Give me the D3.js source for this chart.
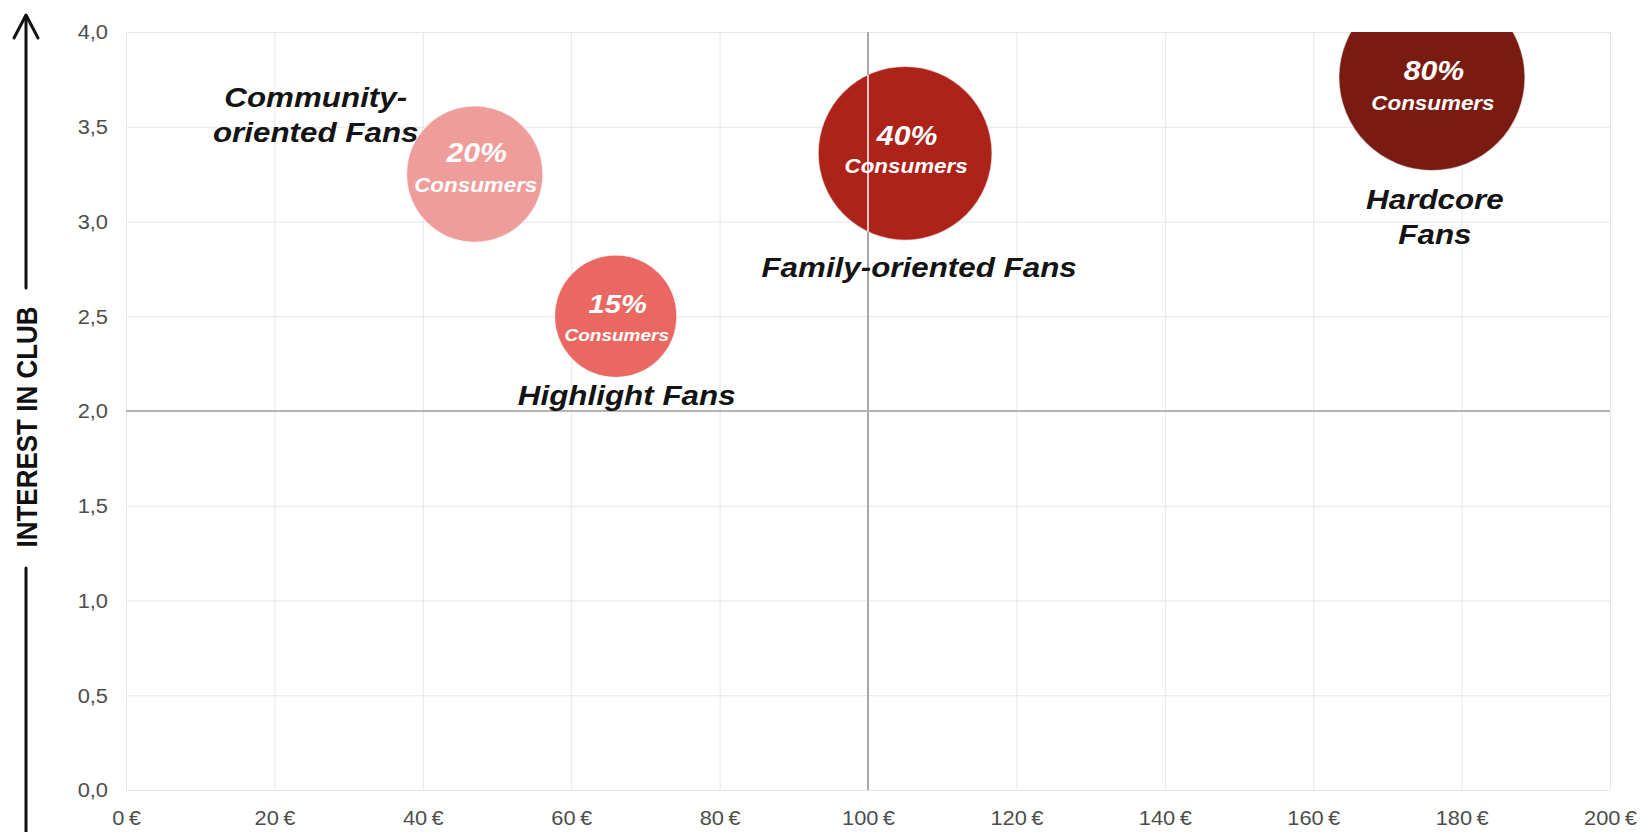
<!DOCTYPE html>
<html>
<head>
<meta charset="utf-8">
<script src="https://cdn.jsdelivr.net/npm/d3@7"></script>
<style>
  body { margin: 0; background: #fff; }
  svg text { font-family: "Liberation Sans", Arial, sans-serif; }
</style>
</head>
<body>
<div id="chart"></div>
<script>
// Fan segments: spend per fan (x), interest in club (y), share of consumers, bubble size
const segmentLines = [["Community-", "oriented Fans"], ["Highlight Fans"], ["Family-oriented Fans"], ["Hardcore", "Fans"]];
const spend = [47, 66, 105, 176];
const interest = [3.25, 2.5, 3.36, 3.76];
const consumerShare = [20, 15, 40, 80];
const bubbleValue = [4.6, 3.7, 7.5, 8.6];
const xTicks = [0, 20, 40, 60, 80, 100, 120, 140, 160, 180, 200];
const yTicks = [0, 0.5, 1, 1.5, 2, 2.5, 3, 3.5, 4];
const yTitle = "INTEREST IN CLUB";

// where labels sit relative to each bubble (pixels), and text sizes
const labelLayout = [
    { name: [-159, -77], pct: -22, cons: 11, pctSize: 27, consSize: 20 },
    { name: [11, 79], pct: -13, cons: 19, pctSize: 26, consSize: 17 },
    { name: [14, 114], pct: -18, cons: 13, pctSize: 27, consSize: 20 },
    { name: [3, 121], pct: -7, cons: 25, pctSize: 27, consSize: 20 }
];
const colors = ["#EF9D9B", "#EA6862", "#AD231A", "#7A1B12"];
const sx = 1.12; // the slide is stretched a bit sideways

const W = 1642, H = 832;
const margin = { top: 32, right: 32, bottom: 42, left: 126 };
const width = W - margin.left - margin.right;
const height = H - margin.top - margin.bottom;

const svg = d3.select("#chart").append("svg")
    .attr("width", W)
    .attr("height", H);

const g = svg.append("g")
    .attr("transform", `translate(${margin.left},${margin.top})`);

const x = d3.scaleLinear().domain([0, 200]).range([0, width]);
const y = d3.scaleLinear().domain([0, 4]).range([height, 0]);
const r = d3.scaleSqrt().domain([0, d3.max(bubbleValue)]).range([0, 93]);

// light grid
g.append("g")
    .attr("transform", `translate(0,${height})`)
    .call(d3.axisBottom(x).tickValues(xTicks).tickSize(-height).tickFormat(""))
    .call(a => a.select(".domain").remove())
    .selectAll("line").attr("stroke", "#e6e6e6");

g.append("g")
    .call(d3.axisLeft(y).tickValues(yTicks).tickSize(-width).tickFormat(""))
    .call(a => a.select(".domain").remove())
    .selectAll("line").attr("stroke", "#e6e6e6");

// tick labels
const fmtY = d3.format(".1f");
const xAxis = g.append("g")
    .attr("transform", `translate(0,${height})`)
    .call(d3.axisBottom(x).tickValues(xTicks).tickSize(0).tickPadding(0)
        .tickFormat(d => d + "\u2009€"));
xAxis.select(".domain").remove();
xAxis.selectAll("text")
    .attr("y", 35)
    .attr("dy", 0)
    .attr("transform", `scale(${sx},1)`)
    .attr("fill", "#4d4d4d")
    .style("font-size", "19.5px");

const yAxis = g.append("g")
    .call(d3.axisLeft(y).tickValues(yTicks).tickSize(0).tickPadding(0)
        .tickFormat(d => fmtY(d).replace(".", ",")));
yAxis.select(".domain").remove();
yAxis.selectAll("text")
    .attr("x", -18 / sx)
    .attr("dy", "0.35em")
    .attr("transform", `scale(${sx},1)`)
    .attr("fill", "#4d4d4d")
    .style("font-size", "19.5px");

// bubbles, clipped to the plot area
g.append("clipPath").attr("id", "plotClip")
    .append("rect").attr("width", width).attr("height", height);

const bubbles = g.append("g").attr("clip-path", "url(#plotClip)");
bubbles.selectAll("circle")
    .data(d3.range(spend.length))
    .join("circle")
    .attr("cx", i => x(spend[i]))
    .attr("cy", i => y(interest[i]))
    .attr("r", i => r(bubbleValue[i]))
    .attr("fill", i => colors[i])
    .attr("stroke", "#fff")
    .attr("stroke-opacity", 0.5)
    .attr("stroke-width", 1.2);

// quadrant lines on top (lighter where they cross a bubble)
const quad = g.append("g");
quad.append("line")
    .attr("x1", x(100)).attr("x2", x(100))
    .attr("y1", 0).attr("y2", height)
    .attr("stroke", "#a8a8a8").attr("stroke-width", 2);
quad.append("line")
    .attr("x1", 0).attr("x2", width)
    .attr("y1", y(2)).attr("y2", y(2))
    .attr("stroke", "#b4b4b4").attr("stroke-width", 2);

g.append("clipPath").attr("id", "bubbleClip")
    .selectAll("circle")
    .data(d3.range(spend.length))
    .join("circle")
    .attr("cx", i => x(spend[i]))
    .attr("cy", i => y(interest[i]))
    .attr("r", i => r(bubbleValue[i]));
g.append("line")
    .attr("clip-path", "url(#bubbleClip)")
    .attr("x1", x(100)).attr("x2", x(100))
    .attr("y1", 0).attr("y2", height)
    .attr("stroke", "#f3c4c2").attr("stroke-width", 2);

// stretched text helper
function label(parent, px, py, str, size, color, italic) {
    parent.append("text")
        .attr("transform", `translate(${px},${py}) scale(${sx},1)`)
        .attr("text-anchor", "middle")
        .attr("dy", (0.358 * size) + "px")
        .attr("fill", color)
        .style("font-size", size + "px")
        .style("font-weight", "bold")
        .style("font-style", italic ? "italic" : "normal")
        .text(str);
}

const labels = g.append("g");
d3.range(spend.length).forEach(i => {
    const cx = x(spend[i]), cy = y(interest[i]);
    const L = labelLayout[i];
    label(labels, cx + 2, cy + L.pct, consumerShare[i] + "%", L.pctSize, "#fff", true);
    label(labels, cx + 1, cy + L.cons, "Consumers", L.consSize, "#fff", true);
    segmentLines[i].forEach((line, k) => {
        label(labels, cx + L.name[0], cy + L.name[1] + k * 35, line, 28, "#141414", true);
    });
});

// y axis title with arrow
const titleX = 26, titleY = 427;
svg.append("text")
    .attr("transform", `translate(${titleX + 1},${titleY}) rotate(-90) scale(1,${sx})`)
    .attr("text-anchor", "middle")
    .attr("dy", "0.36em")
    .attr("fill", "#111")
    .style("font-size", "26px")
    .style("font-weight", "bold")
    .text(yTitle);

const arrow = svg.append("g")
    .attr("stroke", "#111").attr("stroke-width", 3).attr("fill", "none")
    .attr("stroke-linecap", "round").attr("stroke-linejoin", "round");
arrow.append("line").attr("x1", titleX).attr("x2", titleX).attr("y1", 16).attr("y2", 288);
arrow.append("polyline").attr("points", `${titleX - 12},38 ${titleX},15 ${titleX + 12},38`);
arrow.append("line").attr("x1", titleX).attr("x2", titleX).attr("y1", 568).attr("y2", H);
</script>
</body>
</html>
